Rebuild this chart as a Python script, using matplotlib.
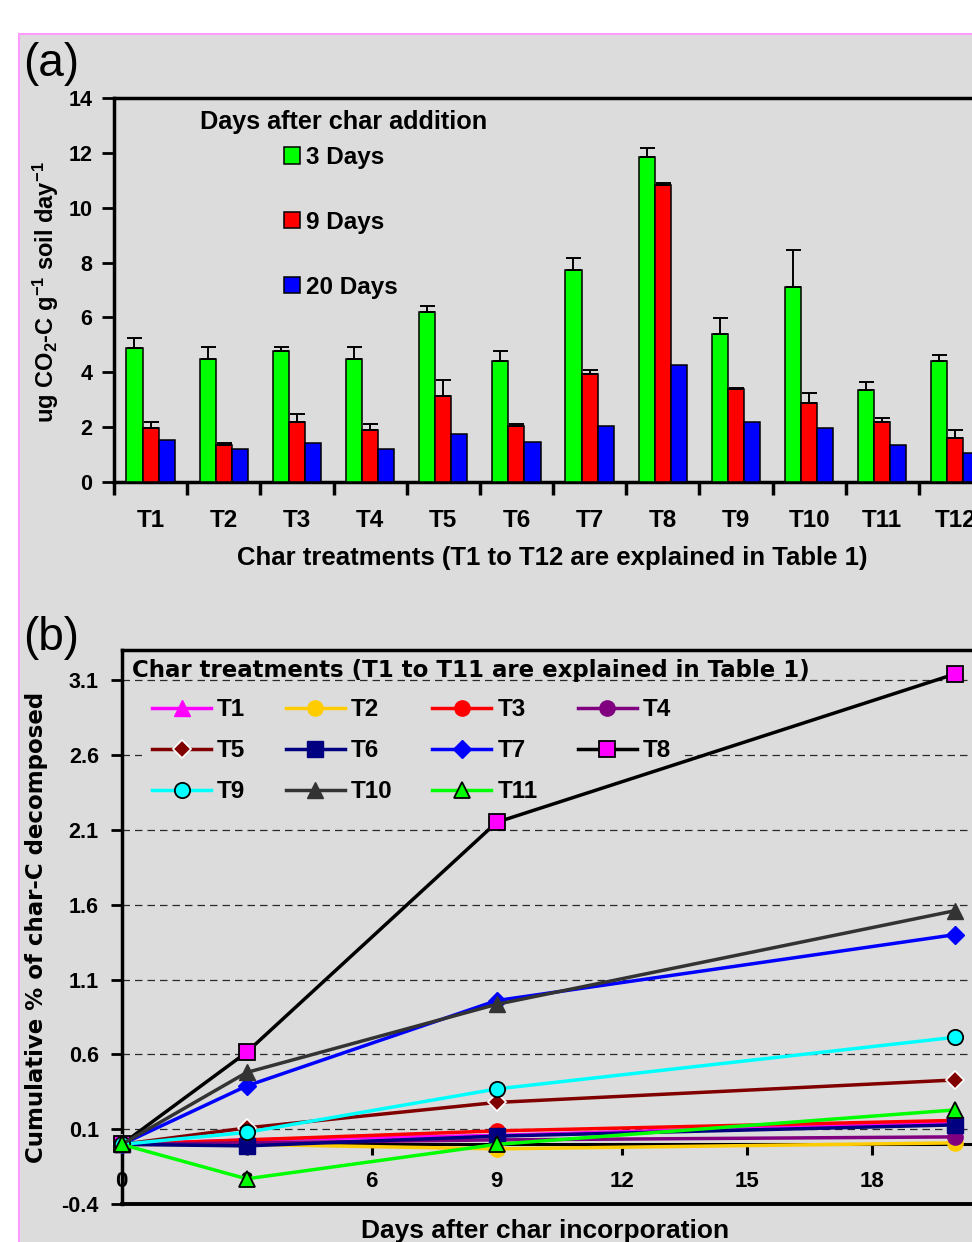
import numpy as np
import matplotlib
matplotlib.use('Agg')
import matplotlib.pyplot as plt
from matplotlib.patches import Rectangle

plt.rcParams['font.family'] = ['Liberation Sans', 'DejaVu Sans']
plt.rcParams['font.weight'] = 'bold'
plt.rcParams['axes.labelweight'] = 'bold'
plt.rcParams['mathtext.fontset'] = 'custom'
plt.rcParams['mathtext.rm'] = 'Liberation Sans:bold'
plt.rcParams['mathtext.it'] = 'Liberation Sans:bold'
plt.rcParams['mathtext.bf'] = 'Liberation Sans:bold'

# (a) respiration rate by treatment
treatments = ['T1', 'T2', 'T3', 'T4', 'T5', 'T6', 'T7', 'T8', 'T9', 'T10', 'T11', 'T12']
resp_3d = [4.90, 4.48, 4.78, 4.48, 6.19, 4.41, 7.73, 11.86, 5.40, 7.10, 3.37, 4.41]
err_3d = [0.36, 0.43, 0.13, 0.43, 0.22, 0.37, 0.44, 0.32, 0.59, 1.35, 0.29, 0.23]
resp_9d = [1.97, 1.35, 2.18, 1.90, 3.15, 2.04, 3.93, 10.84, 3.38, 2.87, 2.18, 1.62]
err_9d = [0.21, 0.06, 0.29, 0.21, 0.57, 0.09, 0.14, 0.05, 0.05, 0.36, 0.14, 0.29]
resp_20d = [1.54, 1.19, 1.41, 1.19, 1.76, 1.47, 2.04, 4.28, 2.18, 1.97, 1.34, 1.06]

# (b) cumulative % of char-C decomposed
days = [0, 3, 9, 20]
cum_t1 = [0, 0.03, 0.06, 0.15]
cum_t2 = [0, 0.00, -0.03, 0.01]
cum_t3 = [0, 0.03, 0.09, 0.16]
cum_t4 = [0, 0.01, 0.03, 0.05]
cum_t5 = [0, 0.11, 0.28, 0.43]
cum_t6 = [0, -0.01, 0.055, 0.13]
cum_t7 = [0, 0.39, 0.96, 1.40]
cum_t8 = [0, 0.615, 2.15, 3.14]
cum_t9 = [0, 0.08, 0.37, 0.715]
cum_t10 = [0, 0.48, 0.935, 1.56]
cum_t11 = [0, -0.23, 0.00, 0.23]

W, H = 972, 1242


def fx(px):
    return px / W


def fy(py):
    return 1 - py / H


fig = plt.figure(figsize=(W / 100, H / 100), dpi=100)
fig.patch.set_facecolor('white')
fig.add_artist(Rectangle((fx(18.5), fy(1400)), 2, fy(33.5) - fy(1400), transform=fig.transFigure,
                         facecolor='#DCDCDC', edgecolor='#FF9CFF', linewidth=1.5, zorder=-1))


def axes_px(left, top, right, bottom):
    ax = fig.add_axes([fx(left), fy(bottom), (right - left) / W, (bottom - top) / H])
    ax.set_facecolor('none')
    return ax


# ---------------- panel (a) ----------------
ax1 = axes_px(114, 98, 992, 482)
x = np.arange(len(treatments))
w = 0.22
err_style = dict(ecolor='black', elinewidth=1.4, capsize=5.4, capthick=1.4)
zeros = np.zeros(len(treatments))
b3 = ax1.bar(x - w, resp_3d, w, yerr=[zeros, err_3d], color='#00FF00', edgecolor='black',
             linewidth=1.1, error_kw=err_style, zorder=3)
b9 = ax1.bar(x, resp_9d, w, yerr=[zeros, err_9d], color='#FF0000', edgecolor='black',
             linewidth=1.1, error_kw=err_style, zorder=3)
b20 = ax1.bar(x + w, resp_20d, w, color='#0000FF', edgecolor='black', linewidth=1.1, zorder=3)

ax1.set_xlim(-0.5, len(treatments) - 0.5)
ax1.set_ylim(0, 14)
ax1.set_yticks(np.arange(0, 15, 2))
ax1.set_xticks(np.arange(-0.5, len(treatments), 1))
ax1.set_xticklabels([])
ax1.set_xticks(x, minor=True)
ax1.set_xticklabels(treatments, minor=True)
ax1.tick_params(axis='x', which='major', direction='out', length=9, width=2.5)
ax1.tick_params(axis='x', which='minor', length=0, pad=19.5, labelsize=17.5)
ax1.tick_params(axis='y', direction='out', length=9, width=2, pad=6.5, labelsize=15.5)
for s in ax1.spines.values():
    s.set_linewidth(2.5)

ax1.set_ylabel('ug CO$_2$-C g$^{-1}$ soil day$^{-1}$', fontsize=17)
ax1.yaxis.set_label_coords(fx(61), fy(292), transform=fig.transFigure)
ax1.set_xlabel('Char treatments (T1 to T12 are explained in Table 1)', fontsize=18.5)
ax1.xaxis.set_label_coords(fx(552), fy(546), transform=fig.transFigure)

fig.text(fx(344), fy(129), 'Days after char addition', ha='center', va='baseline', fontsize=18.2)
ax1.legend([b3, b9, b20], ['3 Days', '9 Days', '20 Days'], loc='upper left',
           bbox_to_anchor=(fx(284), fy(146)), bbox_transform=fig.transFigure,
           frameon=False, fontsize=17.5, handlelength=0.66, handleheight=0.66,
           handletextpad=0.25, labelspacing=1.72, borderpad=0, borderaxespad=0)

fig.text(fx(23), fy(64), '(a)', fontsize=33, fontweight='normal', ha='left', va='center')

# ---------------- panel (b) ----------------
ax2 = axes_px(121.7, 650, 996.7, 1204.3)

series = [
    ('T1', cum_t1, dict(color='#FF00FF', marker='^', ms=12, mfc='#FF00FF', mec='#FF00FF')),
    ('T2', cum_t2, dict(color='#FFCC00', marker='o', ms=11, mfc='#FFCC00', mec='#FFCC00')),
    ('T3', cum_t3, dict(color='#FF0000', marker='o', ms=11, mfc='#FF0000', mec='#FF0000')),
    ('T4', cum_t4, dict(color='#800080', marker='o', ms=11, mfc='#800080', mec='#800080')),
    ('T5', cum_t5, dict(color='#800000', marker='D', ms=9, mfc='#800000', mec='white', mew=1.2)),
    ('T6', cum_t6, dict(color='#000080', marker='s', ms=11, mfc='#000080', mec='#000080')),
    ('T7', cum_t7, dict(color='#0000FF', marker='D', ms=9.5, mfc='#0000FF', mec='#0000FF')),
    ('T8', cum_t8, dict(color='black', marker='s', ms=11, mfc='#FF00FF', mec='black', mew=1.3)),
    ('T9', cum_t9, dict(color='#00FFFF', marker='o', ms=11, mfc='#00FFFF', mec='black', mew=1.3)),
    ('T10', cum_t10, dict(color='#333333', marker='^', ms=12, mfc='#333333', mec='#333333')),
    ('T11', cum_t11, dict(color='#00FF00', marker='^', ms=12, mfc='#00FF00', mec='black', mew=1.3)),
]
lines = {}
for name, vals, style in series:
    ln, = ax2.plot(days, vals, lw=2.5, label=name, zorder=4, clip_on=False, **style)
    lines[name] = ln

ax2.set_xlim(0, 21)
ax2.set_ylim(-0.4, 3.3)
yt = np.arange(-0.4, 3.2, 0.5)
ax2.set_yticks(yt)
ax2.set_yticklabels([f'{v:.1f}' for v in yt])
ax2.set_xticks([0, 3, 6, 9, 12, 15, 18])
ax2.tick_params(axis='x', direction='out', length=8, width=2.2, pad=11, labelsize=16)
ax2.tick_params(axis='y', direction='out', length=8, width=2, pad=8.5, labelsize=15.5)
ax2.grid(axis='y', linestyle=(0, (6, 4)), color='#2a2a2a', linewidth=0.9)
ax2.spines['bottom'].set_position(('data', 0))
for s in ax2.spines.values():
    s.set_linewidth(2.5)
ax2.spines['bottom'].set_linewidth(2.2)
ax2.axhline(ax2.get_ylim()[0], color='black', lw=2.8, clip_on=False, zorder=5)

ax2.set_ylabel('Cumulative % of char-C decomposed', fontsize=16.5, family='DejaVu Sans')
ax2.yaxis.set_label_coords(fx(48), fy(927), transform=fig.transFigure)
ax2.set_xlabel('Days after char incorporation', fontsize=19)
ax2.xaxis.set_label_coords(fx(545), fy(1219), transform=fig.transFigure)

fig.text(fx(131.7), fy(677), 'Char treatments (T1 to T11 are explained in Table 1)',
         ha='left', va='baseline', fontsize=16.5, family='DejaVu Sans')
# legend fills column-first, so reorder to read T1 T2 T3 T4 across the rows
order = ['T1', 'T5', 'T9', 'T2', 'T6', 'T10', 'T3', 'T7', 'T11', 'T4', 'T8']
leg = ax2.legend([lines[k] for k in order], order, loc='upper left', ncol=4,
                 bbox_to_anchor=(fx(152 - 9.7), fy(712 - 13.6 - 9.7)), bbox_transform=fig.transFigure,
                 fontsize=17.5, handlelength=2.43, handletextpad=0.25, columnspacing=1.65,
                 labelspacing=0.735, borderpad=0.4, borderaxespad=0, frameon=True,
                 facecolor='#DCDCDC', edgecolor='none', framealpha=1, fancybox=False)
leg.set_zorder(3)

fig.text(fx(23), fy(638), '(b)', fontsize=33, fontweight='normal', ha='left', va='center')

fig.savefig('out.png', dpi=100)
